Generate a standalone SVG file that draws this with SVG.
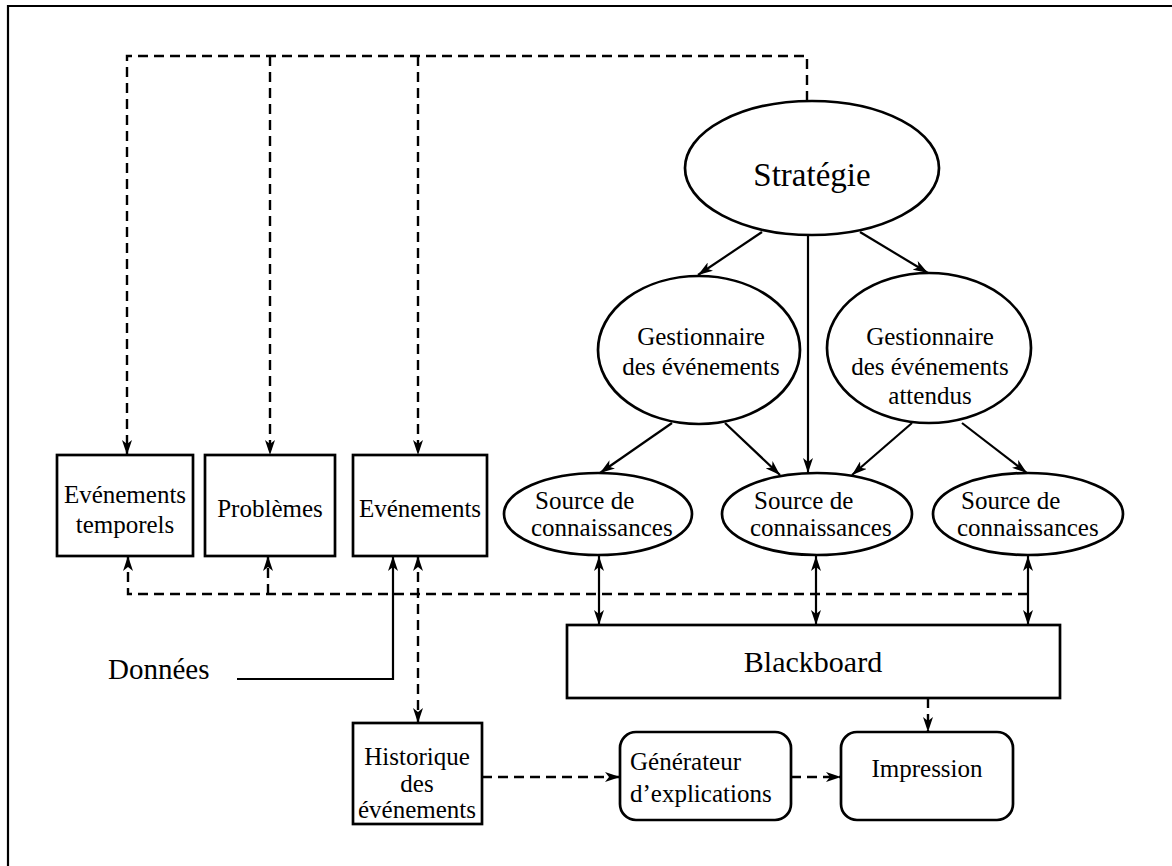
<svg xmlns="http://www.w3.org/2000/svg" width="1172" height="866" viewBox="0 0 1172 866">
<style>
text { font-family: "Liberation Serif", "DejaVu Serif", serif; fill: #000; }
.t { font-size: 25px; }
.big { font-size: 33px; }
.mid { text-anchor: middle; }
.node { fill: #fff; stroke: #000; stroke-width: 2.7; }
.ln { fill: none; stroke: #000; stroke-width: 2.2; }
.dash { fill: none; stroke: #000; stroke-width: 2.4; stroke-dasharray: 10 6; }
.frame { fill: none; stroke: #000; stroke-width: 2.2; }
</style>
<defs>
<marker id="ah" viewBox="0 0 15 10" refX="15" refY="5" markerWidth="15" markerHeight="10" markerUnits="userSpaceOnUse" orient="auto-start-reverse">
<path d="M0,0 L15,5 L0,10 L4,5 z" fill="#000"/>
</marker>
</defs>
<rect width="1172" height="866" fill="#fff"/>
<path class="frame" d="M8,866 V6 H1172"/>

<g id="connectors">
<path class="dash" d="M807,101 V56 H127 V455" marker-end="url(#ah)"/>
<path class="dash" d="M270,56 V455" marker-end="url(#ah)"/>
<path class="dash" d="M418,56 V455" marker-end="url(#ah)"/>
<path class="dash" d="M128,556 V594 H1028" marker-start="url(#ah)"/>
<path class="dash" d="M268,594 V556" marker-end="url(#ah)"/>
<path class="dash" d="M418,556 V723" marker-start="url(#ah)" marker-end="url(#ah)"/>
<path class="ln" d="M237,679 H393 V556" marker-end="url(#ah)"/>
<path class="ln" d="M762,232 L698,275" marker-end="url(#ah)"/>
<path class="ln" d="M860,232 L928,273" marker-end="url(#ah)"/>
<path class="ln" d="M808,235 V473" marker-end="url(#ah)"/>
<path class="ln" d="M672,423 L600,473" marker-end="url(#ah)"/>
<path class="ln" d="M725,423 L780,475" marker-end="url(#ah)"/>
<path class="ln" d="M912,423 L852,475" marker-end="url(#ah)"/>
<path class="ln" d="M962,423 L1027,473" marker-end="url(#ah)"/>
<path class="ln" d="M599,556 V625" marker-start="url(#ah)" marker-end="url(#ah)"/>
<path class="ln" d="M816,556 V625" marker-start="url(#ah)" marker-end="url(#ah)"/>
<path class="ln" d="M1028,556 V625" marker-start="url(#ah)" marker-end="url(#ah)"/>
<path class="dash" d="M928,698 V732" marker-end="url(#ah)"/>
<path class="dash" d="M482,777 H620" marker-end="url(#ah)"/>
<path class="dash" d="M791,777 H841" marker-end="url(#ah)"/>
</g>

<g id="strategie">
<ellipse class="node" cx="812" cy="168" rx="127" ry="67"/>
<text class="big mid" x="812" y="186">Stratégie</text>
</g>
<g id="gestionnaire-evenements">
<ellipse class="node" cx="699" cy="350" rx="101" ry="74"/>
<text class="t mid" x="701" y="345">Gestionnaire</text>
<text class="t mid" x="701" y="375">des événements</text>
</g>
<g id="gestionnaire-attendus">
<ellipse class="node" cx="929" cy="348" rx="102" ry="75"/>
<text class="t mid" x="930" y="345">Gestionnaire</text>
<text class="t mid" x="930" y="375">des événements</text>
<text class="t mid" x="930" y="404">attendus</text>
</g>
<g id="source1">
<ellipse class="node" cx="598" cy="514" rx="94" ry="41"/>
<text class="t" x="535" y="509">Source de</text>
<text class="t" x="531" y="536">connaissances</text>
</g>
<g id="source2">
<ellipse class="node" cx="817" cy="514" rx="95" ry="41"/>
<text class="t" x="754" y="509">Source de</text>
<text class="t" x="750" y="536">connaissances</text>
</g>
<g id="source3">
<ellipse class="node" cx="1028" cy="514" rx="95" ry="41"/>
<text class="t" x="961" y="509">Source de</text>
<text class="t" x="957" y="536">connaissances</text>
</g>
<g id="evenements-temporels">
<rect class="node" x="57" y="455" width="136" height="101"/>
<text class="t mid" x="125" y="503">Evénements</text>
<text class="t mid" x="125" y="533">temporels</text>
</g>
<g id="problemes">
<rect class="node" x="205" y="455" width="130" height="101"/>
<text class="t mid" x="270" y="517">Problèmes</text>
</g>
<g id="evenements">
<rect class="node" x="353" y="455" width="134" height="101"/>
<text class="t mid" x="420" y="517">Evénements</text>
</g>
<g id="blackboard">
<rect class="node" x="567" y="625" width="493" height="73"/>
<text class="mid" style="font-size:30px" x="813" y="672">Blackboard</text>
</g>
<g id="donnees">
<text style="font-size:29px" x="108" y="679">Données</text>
</g>
<g id="historique">
<rect class="node" x="353" y="723" width="129" height="101"/>
<text class="t mid" x="417" y="765">Historique</text>
<text class="t mid" x="417" y="792">des</text>
<text class="t mid" x="417" y="818">événements</text>
</g>
<g id="generateur">
<rect class="node" x="620" y="732" width="171" height="88" rx="16" ry="16"/>
<text class="t" x="630" y="770">Générateur</text>
<text class="t" x="630" y="802">d’explications</text>
</g>
<g id="impression">
<rect class="node" x="841" y="732" width="172" height="88" rx="16" ry="16"/>
<text class="t mid" x="927" y="777">Impression</text>
</g>
</svg>
